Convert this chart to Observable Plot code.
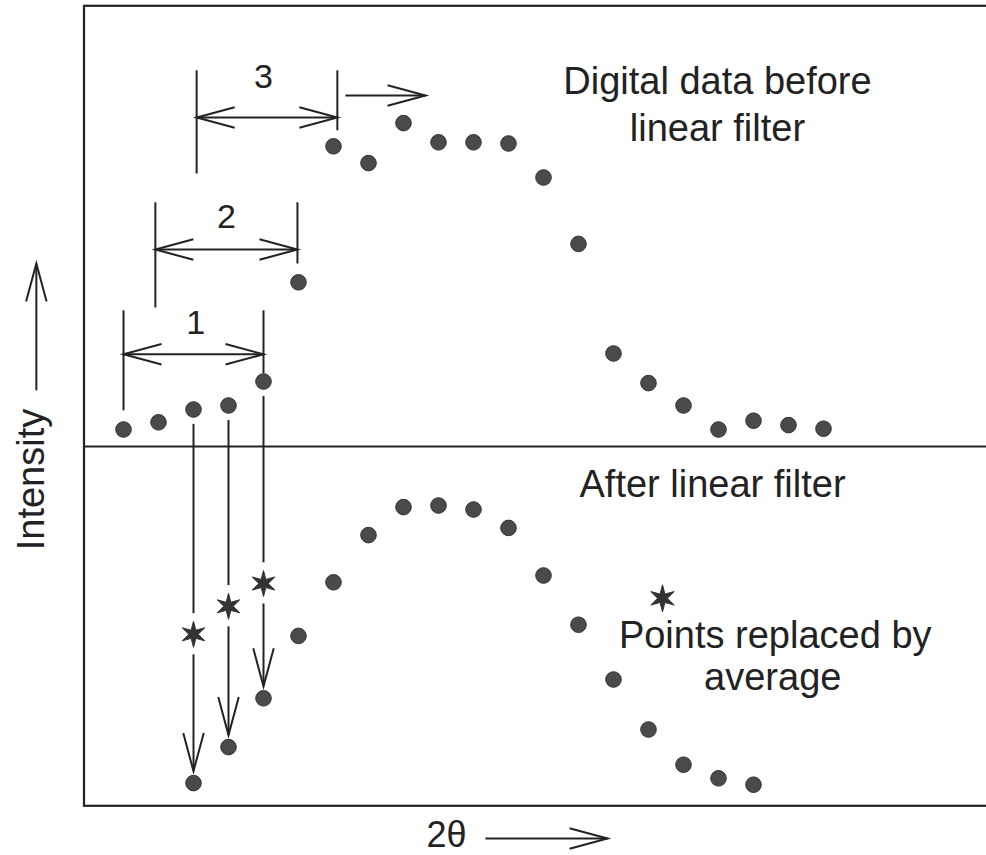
<!DOCTYPE html>
<html>
<head>
<meta charset="utf-8">
<script src="https://cdn.jsdelivr.net/npm/d3@7"></script>
<script src="https://cdn.jsdelivr.net/npm/@observablehq/plot@0.6"></script>
<style>
  html, body { margin: 0; padding: 0; background: #fff; overflow: hidden; }
</style>
</head>
<body>
<div id="chart"></div>
<script>
// ---- data (x = point index along 2θ, y = intensity units) ----
const rawIntensity = [47.0, 47.9, 49.5, 50.0, 53.0, 65.4, 82.4, 80.3, 85.3, 82.9, 82.9,
                      82.75, 78.5, 70.2, 56.5, 52.8, 50.0, 47.0, 48.1, 47.55, 47.1];
const filteredStart = 2;
const filteredIntensity = [2.8, 7.3, 13.4, 21.2, 27.9, 33.8, 37.3, 37.5, 37.0, 34.7,
                           28.75, 22.6, 15.75, 9.5, 5.1, 3.4, 2.6];
const replacedIndex = [2, 3, 4];
const starIntensity = [21.4, 24.9, 27.75];

// averaging windows (brackets 1, 2, 3)
const windowLabels = ["1", "2", "3"];
const windowStart = [0, 0.91, 2.09];
const windowEnd = [4, 4.97, 6.11];
const windowTop = [61.9, 75.4, 91.9];
const windowLeftBottom = [49.4, 62.25, 79.0];
const windowRightBottom = [54.0, 67.75, 84.4];
const windowArrowY = [56.4, 69.5, 86.0];
const windowLabelX = [2.06, 2.94, 4.0];
const windowLabelY = [60.25, 73.5, 91.0];
const shiftArrow = {x1: 6.34, x2: 8.63, y: 88.75};

// annotations
const annotationText = ["Digital data before", "linear filter", "After linear filter", "Points replaced by", "average"];
const annotationX = [16.97, 16.97, 16.83, 18.62, 18.55];
const annotationY = [90.5, 84.6, 40.1, 21.25, 15.9];
const legendStar = {x: 15.4, y: 25.9};

// axis labels
const xLabel = {text: "2θ", x: 9.23, y: -3.8, arrowFrom: 10.34, arrowTo: 13.83, arrowY: -4.125};
const yLabel = {text: "Intensity", x: -2.63, y: 40.75, arrowX: -2.49, arrowFrom: 51.9, arrowTo: 67.75};

// frame
const frameBox = {x1: -1.114, x2: 26, y1: -0.1, y2: 99.9};
const dividerY = 44.875;

// ---- derived tables ----
const rawPoints = rawIntensity.map((v, i) => ({x: i, y: v}));
const filteredPoints = filteredIntensity.map((v, i) => ({x: i + filteredStart, y: v}));
const stars = replacedIndex.map((i, k) => ({x: i, y: starIntensity[k]}));

const gapTop = 1.8, gapStarUp = 2.65, gapStarDown = 2.5, gapTip = 1.5;
const shafts = [];
const heads = [];
replacedIndex.forEach((i, k) => {
  const tip = filteredIntensity[i - filteredStart] + gapTip;
  shafts.push({x1: i, x2: i, y1: rawIntensity[i] - gapTop, y2: starIntensity[k] + gapStarUp});
  shafts.push({x1: i, x2: i, y1: starIntensity[k] - gapStarDown, y2: tip});
  heads.push({x: i, y: tip, angle: 90});
});
windowLabels.forEach((_, k) => {
  shafts.push({x1: windowStart[k], x2: windowStart[k], y1: windowTop[k], y2: windowLeftBottom[k]});
  shafts.push({x1: windowEnd[k], x2: windowEnd[k], y1: windowTop[k], y2: windowRightBottom[k]});
  shafts.push({x1: windowStart[k], x2: windowEnd[k], y1: windowArrowY[k], y2: windowArrowY[k]});
  heads.push({x: windowStart[k], y: windowArrowY[k], angle: 180});
  heads.push({x: windowEnd[k], y: windowArrowY[k], angle: 0});
});
shafts.push({x1: shiftArrow.x1, x2: shiftArrow.x2, y1: shiftArrow.y, y2: shiftArrow.y});
heads.push({x: shiftArrow.x2, y: shiftArrow.y, angle: 0});
shafts.push({x1: xLabel.arrowFrom, x2: xLabel.arrowTo, y1: xLabel.arrowY, y2: xLabel.arrowY});
heads.push({x: xLabel.arrowTo, y: xLabel.arrowY, angle: 0});
shafts.push({x1: yLabel.arrowX, x2: yLabel.arrowX, y1: yLabel.arrowFrom, y2: yLabel.arrowTo});
heads.push({x: yLabel.arrowX, y: yLabel.arrowTo, angle: -90});

const windowLabelData = windowLabels.map((t, k) => ({text: t, x: windowLabelX[k], y: windowLabelY[k]}));
const annotations = annotationText.map((t, k) => ({text: t, x: annotationX[k], y: annotationY[k]}));

// ---- custom symbols ----
const chevron = {
  draw(ctx, size) {
    const r = Math.sqrt(size / Math.PI);
    ctx.moveTo(-r, -0.27 * r);
    ctx.lineTo(0, 0);
    ctx.lineTo(-r, 0.27 * r);
  }
};
const star6 = {
  draw(ctx, size) {
    const R = Math.sqrt(size / Math.PI), ri = R * 0.36;
    for (let k = 0; k < 12; k++) {
      const a = -Math.PI / 2 + k * Math.PI / 6;
      const rr = k % 2 ? ri : R;
      const px = rr * Math.cos(a), py = rr * Math.sin(a);
      if (k === 0) ctx.moveTo(px, py); else ctx.lineTo(px, py);
    }
    ctx.closePath();
  }
};

const ink = "#222";
const dotFill = "#4a4a4a";

const chart = Plot.plot({
  width: 986,
  height: 855,
  margin: 0,
  x: {domain: [0, 20], range: [123, 823], axis: null},
  y: {domain: [0, 100], range: [805, 5], axis: null},
  style: {fontFamily: "'Liberation Sans', Arial, sans-serif", background: "#fff"},
  marks: [
    Plot.rect([frameBox], {x1: "x1", x2: "x2", y1: "y1", y2: "y2", fill: "none", stroke: ink, strokeWidth: 2.2}),
    Plot.ruleY([dividerY], {x1: frameBox.x1, x2: frameBox.x2, stroke: ink, strokeWidth: 1.8}),
    Plot.link(shafts, {x1: "x1", x2: "x2", y1: "y1", y2: "y2", stroke: ink, strokeWidth: 2}),
    Plot.dot(heads, {x: "x", y: "y", rotate: "angle", symbol: chevron, r: 38, fill: "none", stroke: ink, strokeWidth: 2}),
    Plot.dot(rawPoints, {x: "x", y: "y", r: 7.8, fill: dotFill, stroke: "#333", strokeWidth: 1}),
    Plot.dot(filteredPoints, {x: "x", y: "y", r: 7.8, fill: dotFill, stroke: "#333", strokeWidth: 1}),
    Plot.dot(stars, {x: "x", y: "y", symbol: star6, r: 13, fill: "#333", stroke: "#333", strokeWidth: 1}),
    Plot.dot([legendStar], {x: "x", y: "y", symbol: star6, r: 13.5, fill: "#333", stroke: "#333", strokeWidth: 1}),
    Plot.text(windowLabelData, {x: "x", y: "y", text: "text", fontSize: 34, fill: ink, lineAnchor: "middle"}),
    Plot.text(annotations, {x: "x", y: "y", text: "text", fontSize: 38, fill: ink, lineAnchor: "middle"}),
    Plot.text([xLabel], {x: "x", y: "y", text: "text", fontSize: 36, fill: ink, lineAnchor: "middle"}),
    Plot.text([yLabel], {x: "x", y: "y", text: "text", fontSize: 38, fill: ink, lineAnchor: "middle", rotate: -90})
  ]
});
document.getElementById("chart").appendChild(chart);
</script>
</body>
</html>
